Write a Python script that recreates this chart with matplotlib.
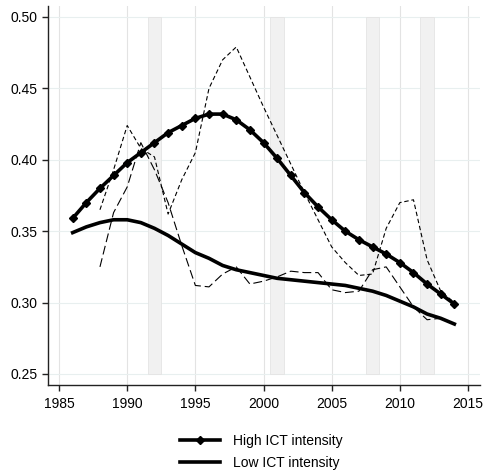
import matplotlib
matplotlib.use("Agg")
import matplotlib.pyplot as plt

plt.rcParams['font.family'] = ['Liberation Sans', 'DejaVu Sans']

# smoothed series, 1986-2014
years = list(range(1986, 2015))
high_smooth = [0.359, 0.370, 0.380, 0.389, 0.398, 0.405, 0.412, 0.419, 0.424, 0.429,
               0.432, 0.432, 0.428, 0.421, 0.412, 0.401, 0.389, 0.377, 0.367, 0.358,
               0.350, 0.344, 0.339, 0.334, 0.328, 0.321, 0.313, 0.306, 0.299]
low_smooth = [0.349, 0.353, 0.356, 0.358, 0.358, 0.356, 0.352, 0.347, 0.341, 0.335,
              0.331, 0.326, 0.323, 0.321, 0.319, 0.317, 0.316, 0.315, 0.314, 0.313,
              0.312, 0.310, 0.308, 0.305, 0.301, 0.297, 0.292, 0.289, 0.285]

# raw (dashed) series
high_raw_years = list(range(1988, 2015))
high_raw = [0.365, 0.393, 0.424, 0.408, 0.402, 0.362, 0.386, 0.405, 0.450, 0.470,
            0.479, 0.458, 0.437, 0.417, 0.397, 0.377, 0.358, 0.339, 0.328, 0.319,
            0.320, 0.352, 0.370, 0.372, 0.330, 0.308, 0.300]
low_raw_years = list(range(1988, 2014))
low_raw = [0.325, 0.363, 0.381, 0.412, 0.393, 0.370, 0.340, 0.312, 0.311, 0.320,
           0.325, 0.313, 0.315, 0.318, 0.322, 0.321, 0.321, 0.309, 0.307, 0.308,
           0.323, 0.325, 0.311, 0.297, 0.288, 0.289]

# recession bands (start, end)
recessions = [(1991.5, 1992.5), (2000.5, 2001.5), (2007.5, 2008.5), (2011.5, 2012.5)]

fig = plt.figure(figsize=(4.84, 4.75), dpi=100)
ax = fig.add_axes([0.0992, 0.1895, 0.8925, 0.7979])

for start, end in recessions:
    ax.fill_between([start, end], 0.25, 0.50, color='#f1f1f1', edgecolor='#e4e4e4',
                    linewidth=0.6, zorder=1)

ax.plot(high_raw_years, high_raw, color='black', linewidth=0.8,
        dashes=(4, 2.5), zorder=3)
ax.plot(low_raw_years, low_raw, color='black', linewidth=0.8,
        dashes=(8, 3.5), zorder=3)

ax.plot(years, high_smooth, color='black', linewidth=2.6, marker='D',
        markersize=4, label='High ICT intensity', zorder=4)
ax.plot(years, low_smooth, color='black', linewidth=2.6,
        label='Low ICT intensity', zorder=4)

ax.set_xlim(1984.19, 2015.88)
ax.set_ylim(0.2423, 0.5077)
ax.set_xticks([1985, 1990, 1995, 2000, 2005, 2010, 2015])
ax.set_yticks([0.25, 0.30, 0.35, 0.40, 0.45, 0.50])
ax.set_yticklabels([f"{v:.2f}" for v in [0.25, 0.30, 0.35, 0.40, 0.45, 0.50]])

ax.grid(True, axis='x', color='#e3e3e3', linewidth=0.8, zorder=0)
ax.grid(True, axis='y', color='#e8efef', linewidth=0.8, zorder=0)
ax.set_axisbelow(True)

for side in ['top', 'right']:
    ax.spines[side].set_visible(False)
for side in ['left', 'bottom']:
    ax.spines[side].set_linewidth(1.0)
    ax.spines[side].set_color('#222222')

ax.tick_params(axis='both', direction='out', length=4, width=1.0,
               labelsize=10, color='#222222')
ax.tick_params(axis='x', pad=5)

fig.legend(loc='center', bbox_to_anchor=(0.54, 0.049), frameon=False,
           fontsize=10, handlelength=2.9, handletextpad=0.9, labelspacing=0.6,
           markerscale=0.9)

fig.savefig('out.png', dpi=100)
